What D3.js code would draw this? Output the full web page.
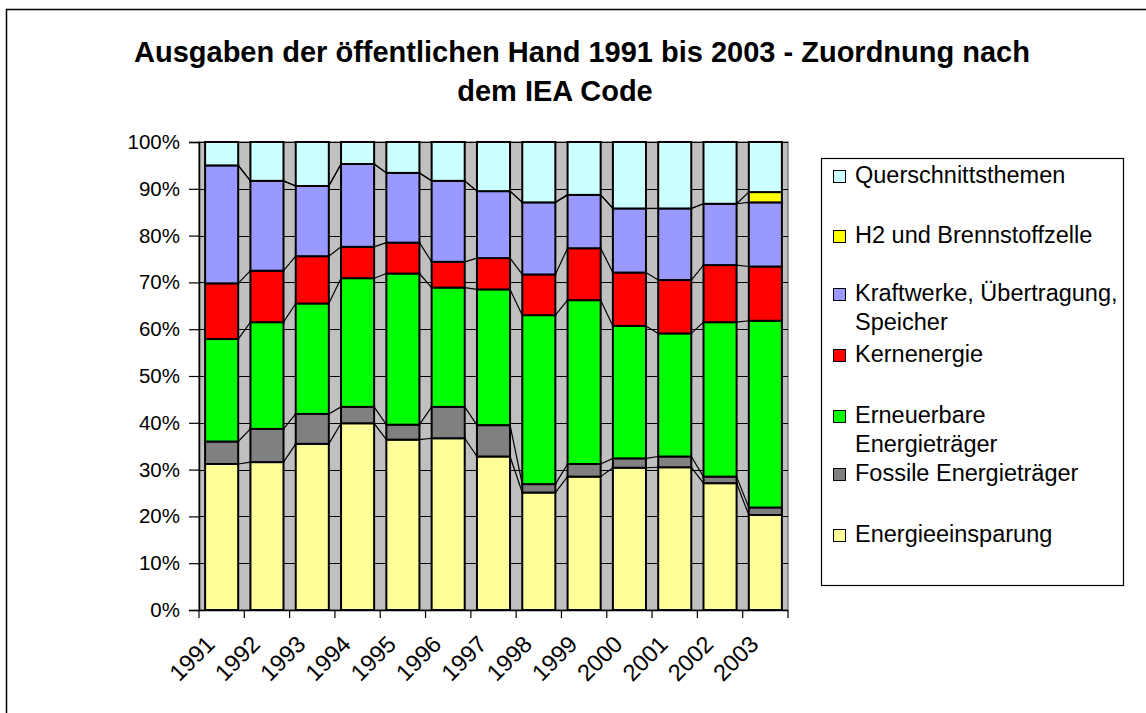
<!DOCTYPE html>
<html>
<head>
<meta charset="utf-8">
<script src="https://cdn.jsdelivr.net/npm/d3@7"></script>
<style>
  html, body { margin: 0; padding: 0; background: #fff; }
  svg { display: block; font-family: "Liberation Sans", Arial, sans-serif; }
</style>
</head>
<body>
<div id="chart"></div>
<script>
// Stacked 100% columns, public spending by IEA code, 1991–2003.
// Shares (percent of each year's total).

const years = ["1991", "1992", "1993", "1994", "1995", "1996", "1997",
  "1998", "1999", "2000", "2001", "2002", "2003"];

const energieeinsparung = [31.2, 31.6, 35.5, 39.9, 36.4, 36.7, 32.8, 25.1, 28.5, 30.4, 30.5, 27.1, 20.3];
const fossile = [4.8, 7.1, 6.4, 3.5, 3.2, 6.7, 6.7, 1.8, 2.7, 2.0, 2.3, 1.4, 1.6];
const erneuerbare = [21.9, 22.8, 23.6, 27.5, 32.3, 25.5, 29.0, 36.1, 35.0, 28.3, 26.3, 33.0, 39.9];
const kernenergie = [11.9, 11.0, 10.1, 6.7, 6.6, 5.5, 6.7, 8.7, 11.1, 11.4, 11.4, 12.2, 11.6];
const kraftwerke = [25.2, 19.2, 15.0, 17.7, 14.9, 17.3, 14.3, 15.4, 11.4, 13.7, 15.3, 13.1, 13.7];
const wasserstoff = [0, 0, 0, 0, 0, 0, 0, 0, 0, 0, 0, 0, 2.2];
const querschnitt = [5.0, 8.3, 9.4, 4.7, 6.6, 8.3, 10.5, 12.9, 11.3, 14.2, 14.2, 13.2, 10.7];

const y_ticks = [0, 0.1, 0.2, 0.3, 0.4, 0.5, 0.6, 0.7, 0.8, 0.9, 1];

// bottom to top
const series = [
  { key: "Energieeinsparung", values: energieeinsparung, color: "#ffff99" },
  { key: "Fossile Energieträger", values: fossile, color: "#808080" },
  { key: "Erneuerbare Energieträger", values: erneuerbare, color: "#00ff00" },
  { key: "Kernenergie", values: kernenergie, color: "#ff0000" },
  { key: "Kraftwerke, Übertragung, Speicher", values: kraftwerke, color: "#9999ff" },
  { key: "H2 und Brennstoffzelle", values: wasserstoff, color: "#ffff00" },
  { key: "Querschnittsthemen", values: querschnitt, color: "#ccffff" },
];

// legend top to bottom, with line breaks as in the original
const legend_items = [
  { key: "Querschnittsthemen", lines: ["Querschnittsthemen"] },
  { key: "H2 und Brennstoffzelle", lines: ["H2 und Brennstoffzelle"] },
  { key: "Kraftwerke, Übertragung, Speicher", lines: ["Kraftwerke, Übertragung,", "Speicher"] },
  { key: "Kernenergie", lines: ["Kernenergie"] },
  { key: "Erneuerbare Energieträger", lines: ["Erneuerbare", "Energieträger"] },
  { key: "Fossile Energieträger", lines: ["Fossile Energieträger"] },
  { key: "Energieeinsparung", lines: ["Energieeinsparung"] },
];

const width = 1146;
const height = 713;
const plot = { left: 199, right: 788, top: 142, bottom: 610 };

const table = years.map((year, index) => {
  const row = { year };
  series.forEach((s) => { row[s.key] = s.values[index]; });
  return row;
});
const stacked = d3.stack()
  .keys(series.map((s) => s.key))
  .offset(d3.stackOffsetExpand)(table);
const color_of = new Map(series.map((s) => [s.key, s.color]));

const x = d3.scaleBand()
  .domain(years)
  .range([plot.left, plot.right])
  .paddingInner(0.27)
  .paddingOuter(0.135);
const y = d3.scaleLinear().domain([0, 1]).range([plot.bottom, plot.top]);

const svg = d3.select("#chart").append("svg")
  .attr("width", width)
  .attr("height", height);

// outer chart frame (only left and top edges fall inside the picture)
svg.append("rect")
  .attr("x", 6.5).attr("y", 9.5)
  .attr("width", 1400).attr("height", 900)
  .attr("fill", "#fff")
  .attr("stroke", "#000")
  .attr("stroke-width", 1.5);

// title
const title = svg.append("text")
  .attr("font-size", 29)
  .attr("font-weight", "bold")
  .attr("text-anchor", "middle");
title.append("tspan").attr("x", 582).attr("y", 62)
  .text("Ausgaben der öffentlichen Hand 1991 bis 2003 - Zuordnung nach");
title.append("tspan").attr("x", 555).attr("y", 101)
  .text("dem IEA Code");

// plot area
svg.append("rect")
  .attr("x", plot.left).attr("y", plot.top)
  .attr("width", plot.right - plot.left)
  .attr("height", plot.bottom - plot.top)
  .attr("fill", "#c0c0c0")
  .attr("stroke", "#808080")
  .attr("stroke-width", 1.5);

svg.append("g")
  .selectAll("line")
  .data(y_ticks)
  .join("line")
  .attr("x1", plot.left).attr("x2", plot.right)
  .attr("y1", (d) => Math.round(y(d)) + 0.5)
  .attr("y2", (d) => Math.round(y(d)) + 0.5)
  .attr("stroke", "#000")
  .attr("stroke-width", 1);

// series lines between neighbouring columns
const step = x.step();
const link_layers = stacked.slice(0, -1);
svg.append("g")
  .selectAll("g")
  .data(link_layers)
  .join("g")
  .selectAll("line")
  .data((layer) => layer.slice(0, -1).map((d, i) => [d[1], layer[i + 1][1], i]))
  .join("line")
  .attr("x1", (d) => x(years[d[2]]) + x.bandwidth())
  .attr("x2", (d) => x(years[d[2] + 1]))
  .attr("y1", (d) => y(d[0]))
  .attr("y2", (d) => y(d[1]))
  .attr("stroke", "#000")
  .attr("stroke-width", 1.2);

// columns
svg.append("g")
  .selectAll("g")
  .data(stacked)
  .join("g")
  .attr("fill", (layer) => color_of.get(layer.key))
  .selectAll("rect")
  .data((layer) => layer.filter((d) => d[1] - d[0] > 0))
  .join("rect")
  .attr("x", (d) => x(d.data.year))
  .attr("y", (d) => y(d[1]))
  .attr("width", x.bandwidth())
  .attr("height", (d) => y(d[0]) - y(d[1]))
  .attr("stroke", "#000")
  .attr("stroke-width", 2);

// y axis
const y_axis = svg.append("g")
  .attr("transform", `translate(${plot.left},0)`)
  .call(d3.axisLeft(y).tickValues(y_ticks).tickFormat(d3.format(".0%")).tickSize(10).tickPadding(9));
y_axis.select(".domain").attr("stroke", "#000").attr("stroke-width", 1.5);
y_axis.selectAll(".tick line").attr("stroke", "#000").attr("stroke-width", 1.2);
y_axis.selectAll(".tick text")
  .attr("font-size", 20.5)
  .attr("font-family", "Liberation Sans, Arial, sans-serif")
  .attr("fill", "#000");

// x axis: ticks at category boundaries
const boundaries = d3.range(years.length + 1).map((i) => plot.left + i * step);
svg.append("line")
  .attr("x1", plot.left).attr("x2", plot.right)
  .attr("y1", plot.bottom + 0.5).attr("y2", plot.bottom + 0.5)
  .attr("stroke", "#000").attr("stroke-width", 1.5);
svg.append("g")
  .selectAll("line")
  .data(boundaries)
  .join("line")
  .attr("x1", (d) => d).attr("x2", (d) => d)
  .attr("y1", plot.bottom).attr("y2", plot.bottom + 8)
  .attr("stroke", "#000").attr("stroke-width", 1.2);
svg.append("g")
  .selectAll("text")
  .data(years)
  .join("text")
  .attr("transform", (d) => `translate(${x(d) + x.bandwidth() / 2 - 17},${plot.bottom + 24}) rotate(-45)`)
  .attr("text-anchor", "end")
  .attr("dy", "0.7em")
  .attr("font-size", 23.5)
  .text((d) => d);

// legend
const legend = svg.append("g");
legend.append("rect")
  .attr("x", 821.5).attr("y", 158.5)
  .attr("width", 302).attr("height", 427)
  .attr("fill", "#fff")
  .attr("stroke", "#000")
  .attr("stroke-width", 1.2);
const legend_baselines = [183, 243, 301, 362, 423, 481, 542];
const line_height = 29;
legend_items.forEach((item, index) => {
  const base = legend_baselines[index];
  legend.append("rect")
    .attr("x", 833.5).attr("y", base - 12.5)
    .attr("width", 12).attr("height", 12)
    .attr("fill", color_of.get(item.key))
    .attr("stroke", "#000")
    .attr("stroke-width", 1);
  const text = legend.append("text").attr("font-size", 23.5);
  item.lines.forEach((line, k) => {
    text.append("tspan").attr("x", 855).attr("y", base + k * line_height).text(line);
  });
});
</script>
</body>
</html>
